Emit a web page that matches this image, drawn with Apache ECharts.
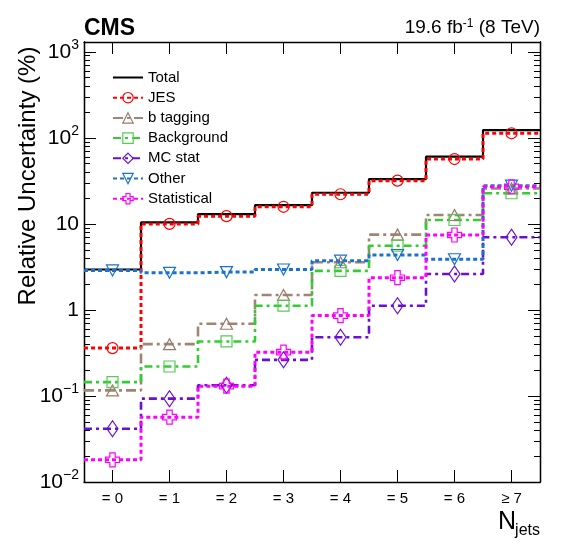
<!DOCTYPE html>
<html><head><meta charset="utf-8">
<script src="https://cdn.jsdelivr.net/npm/echarts@6/dist/echarts.min.js"></script>
<style>html,body{margin:0;padding:0;background:#fff}#c{width:568px;height:553px}</style>
</head><body><div id="c"></div>
<script>
// ---- data ----
const categories = ['= 0', '= 1', '= 2', '= 3', '= 4', '= 5', '= 6', '\u2265 7'];
const total       = [2.95, 10.4, 13.0, 16.5, 23.0, 33.2, 60.4, 123];
const jes         = [0.36, 10.0, 12.3, 15.8, 22.1, 31.8, 56.7, 113];
const btagging    = [0.116, 0.40, 0.69, 1.49, 3.58, 7.5, 12.7, 25.8];
const background  = [0.145, 0.22, 0.43, 1.12, 2.84, 5.58, 11.1, 22.7];
const mcstat      = [0.0415, 0.093, 0.133, 0.263, 0.482, 1.12, 2.62, 7.0];
const other       = [2.88, 2.7, 2.75, 2.95, 3.74, 4.35, 3.88, 27.8];
const statistical = [0.0181, 0.0567, 0.13, 0.323, 0.859, 2.37, 7.43, 27.0];
const yMajorTicks = [0.01, 0.1, 1, 10, 100, 1000];
const yTickLabels = ['10{sup|\u22122}', '10{sup|\u22121}', '1', '10', '10{sup|2}', '10{sup|3}'];
const yMinorTicks = [];
[0.01, 0.1, 1, 10, 100, 1000].forEach(function (d) {
  [2, 3, 4, 5, 6, 7, 8, 9].forEach(function (m) { const v = +(m * d).toPrecision(3); if (v < 1300) yMinorTicks.push(v); });
});
const xTickValues = categories.map(function (c, i) { return i + 0.5; });

// ---- helpers ----
const FONT = 'Liberation Sans';
function histData(vals) {
  const d = [];
  vals.forEach(function (v, i) {
    d.push({ value: [i, v], symbol: 'none' });
    d.push({ value: [i + 0.5, v] });
    d.push({ value: [i + 1, v], symbol: 'none' });
  });
  return d;
}
function mkSeries(name, vals, color, dash, width, symbol, size, markerColor, hideMarker) {
  return {
    name: name, type: 'line', data: histData(vals),
    xAxisIndex: 0, yAxisIndex: 0,
    symbol: symbol, symbolSize: size, showAllSymbol: true, showSymbol: !hideMarker,
    lineStyle: { color: color, width: width, type: dash, cap: 'butt' },
    itemStyle: hideMarker ? { color: 'rgba(0,0,0,0)', borderColor: 'rgba(0,0,0,0)', borderWidth: 0 }
                          : { color: 'rgba(0,0,0,0)', borderColor: markerColor || color, borderWidth: 1.2 },
    emphasis: { disabled: true }, silent: true, animation: false
  };
}
const triDown = 'path://M0,0 L12,0 L6,11 Z';
const triUp = 'path://M6,0 L12,11 L0,11 Z';
const crossP = 'path://M4,0 L9,0 L9,4 L13,4 L13,9 L9,9 L9,13 L4,13 L4,9 L0,9 L0,4 L4,4 Z';

const series = [
  mkSeries('Total', total, '#000000', 'solid', 2.2, 'rect', 1, '#000', true),
  mkSeries('JES', jes, '#ff0000', [4, 3], 3, 'circle', 11),
  mkSeries('b tagging', btagging, '#a08474', [10, 4, 3, 4], 2.6, triUp, [12, 11], '#9a7a6a'),
  mkSeries('Background', background, '#33cc33', [8, 4, 3, 4], 2.6, 'rect', 11, '#55cc55'),
  mkSeries('MC stat', mcstat, '#6a10d0', [8, 4, 3, 4], 2.6, 'diamond', [11, 16]),
  mkSeries('Other', other, '#1a72d0', [4, 3], 3, triDown, [12, 11]),
  mkSeries('Statistical', statistical, '#ff00ff', [4, 3], 3, crossP, [14, 14])
];

const axisLineStyle = { color: '#000', width: 1.3 };
function yAxis(pos, major, labels) {
  return {
    type: 'log', position: pos, min: 0.01, max: 1300, logBase: 10,
    axisLine: { show: true, onZero: false, lineStyle: axisLineStyle },
    axisTick: { show: true, inside: true, length: major ? 12 : 6, customValues: major ? yMajorTicks : yMinorTicks, lineStyle: { color: '#000', width: 1 } },
    axisLabel: labels ? {
      show: true, customValues: yMajorTicks, margin: 5, fontFamily: FONT, fontSize: 21, color: '#000', lineHeight: 27,
      formatter: function (v) { const i = yMajorTicks.findIndex(function (t) { return Math.abs(t - v) / t < 1e-6; }); return i >= 0 ? yTickLabels[i] : ''; },
      rich: { sup: { fontFamily: FONT, fontSize: 14, verticalAlign: 'top', lineHeight: 14, color: '#000' } }
    } : { show: false },
    splitLine: { show: false }, minorTick: { show: false }
  };
}

const option = {
  animation: false,
  grid: { left: 84, right: 28, top: 42, bottom: 71, containLabel: false },
  xAxis: [
    {
      type: 'value', position: 'bottom', min: 0, max: 8,
      axisLine: { show: true, onZero: false, lineStyle: axisLineStyle },
      axisTick: { show: true, inside: true, length: 12, customValues: xTickValues, lineStyle: { color: '#000', width: 1 } },
      axisLabel: { show: true, customValues: xTickValues, margin: 9, fontFamily: FONT, fontSize: 15, color: '#000',
        formatter: function (v) { return categories[Math.round(v - 0.5)]; } },
      splitLine: { show: false }
    },
    {
      type: 'value', position: 'top', min: 0, max: 8,
      axisLine: { show: true, onZero: false, lineStyle: axisLineStyle },
      axisTick: { show: true, inside: true, length: 12, customValues: xTickValues, lineStyle: { color: '#000', width: 1 } },
      axisLabel: { show: false }, splitLine: { show: false }
    }
  ],
  yAxis: [yAxis('left', true, true), yAxis('left', false, false), yAxis('right', true, false), yAxis('right', false, false)],
  legend: {
    orient: 'vertical', left: 107, top: 65, itemWidth: 30, itemHeight: 13, itemGap: 5.2,
    textStyle: { fontFamily: FONT, fontSize: 15, color: '#000' },
    itemStyle: { borderWidth: 1.2 },
    data: series.map(function (s) { return s.name; }),
    selectedMode: false
  },
  series: series,
  graphic: [
    { type: 'text', left: 84, top: 17, style: { text: 'CMS', font: 'bold 23px "Liberation Sans"', fill: '#000' } },
    { type: 'text', right: 28, top: 18, style: { text: '19.6 fb{sup|-1} (8 TeV)', font: '19px "Liberation Sans"', fill: '#000',
        rich: { sup: { fontSize: 12, fontFamily: FONT, verticalAlign: 'top', lineHeight: 11, fill: '#000' } } } },
    { type: 'text', x: 28, y: 176, rotation: Math.PI / 2, style: { text: 'Relative Uncertainty (%)', font: '24px "Liberation Sans"', fill: '#000', align: 'center', verticalAlign: 'middle' } },
    { type: 'text', x: 516, y: 535, style: { text: 'N', font: '25px "Liberation Sans"', fill: '#000', align: 'right', verticalAlign: 'bottom' } },
    { type: 'text', x: 540, y: 539, style: { text: 'jets', font: '16px "Liberation Sans"', fill: '#000', align: 'right', verticalAlign: 'bottom' } }
  ]
};
const chart = echarts.init(document.getElementById('c'), null, { renderer: 'canvas' });
chart.setOption(option);
</script>
</body></html>
